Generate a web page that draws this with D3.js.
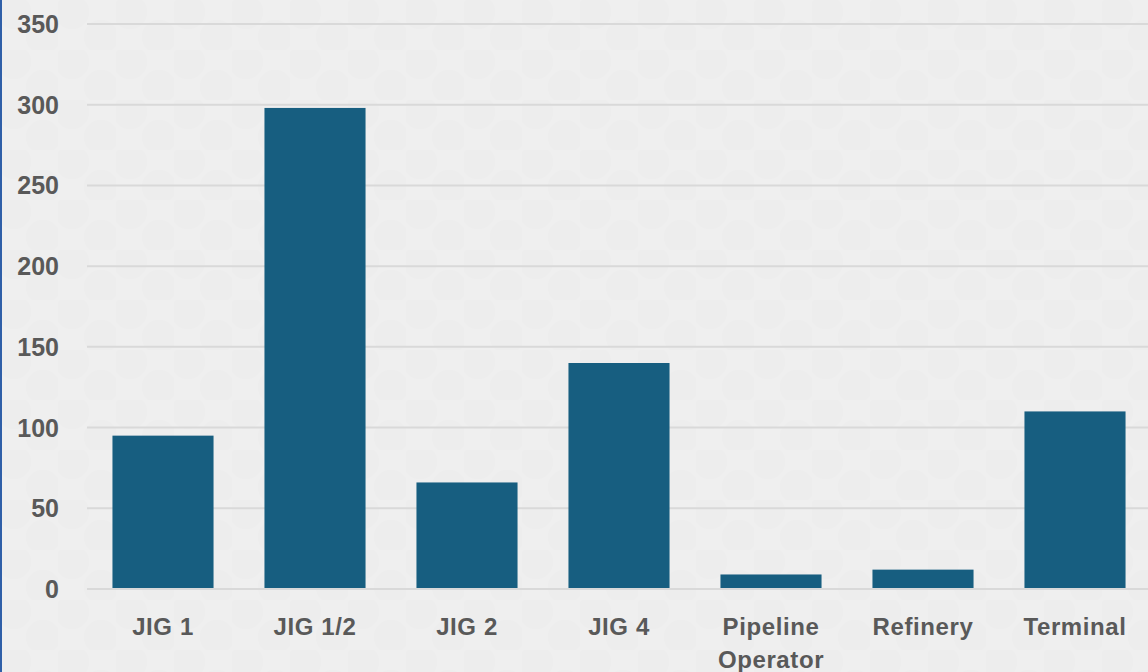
<!DOCTYPE html>
<html>
<head>
<meta charset="utf-8">
<script src="https://cdn.jsdelivr.net/npm/d3@7"></script>
<style>
  html, body { margin: 0; padding: 0; background: #efefef; overflow: hidden; }
  svg { display: block; }
</style>
</head>
<body>
<script>
// chart data
const categories = ["JIG 1", "JIG 1/2", "JIG 2", "JIG 4", "Pipeline Operator", "Refinery", "Terminal"];
const values = [95, 298, 66, 140, 9, 12, 110];
const yTicks = [0, 50, 100, 150, 200, 250, 300, 350];

const width = 1148, height = 672;

const svg = d3.select("body").append("svg")
    .attr("width", width)
    .attr("height", height);

// faint dotted background
const defs = svg.append("defs");
const pat = defs.append("pattern")
    .attr("id", "dots")
    .attr("patternUnits", "userSpaceOnUse")
    .attr("width", 58).attr("height", 50);
pat.append("rect").attr("width", 58).attr("height", 50).attr("fill", "#efefef");
pat.append("circle").attr("cx", 14).attr("cy", 12).attr("r", 17).attr("fill", "#ededed");
pat.append("circle").attr("cx", 43).attr("cy", 37).attr("r", 17).attr("fill", "#ededed");

svg.append("rect").attr("width", width).attr("height", height).attr("fill", "url(#dots)");

// blue edge on the left
svg.append("rect").attr("x", 0).attr("y", 0).attr("width", 2).attr("height", height).attr("fill", "#2f5fa8");

var x = d3.scaleBand()
    .domain(categories)
    .range([87, 1151])
    .paddingInner(0.335)
    .paddingOuter(0.1675);

var y = d3.scaleLinear()
    .domain([0, 350])
    .range([589, 24]);

var labelFont = "'Liberation Sans', Arial, sans-serif";

// gridlines
svg.append("g")
    .selectAll("line")
    .data(yTicks)
    .enter().append("line")
    .attr("x1", 87)
    .attr("x2", width)
    .attr("y1", d => y(d))
    .attr("y2", d => y(d))
    .attr("stroke", "#d9d9d9")
    .attr("stroke-width", 2);

// y labels
svg.append("g")
    .selectAll("text")
    .data(yTicks)
    .enter().append("text")
    .attr("x", 59)
    .attr("y", d => y(d) + 9)
    .attr("text-anchor", "end")
    .style("font-family", labelFont)
    .style("font-weight", "bold")
    .style("font-size", "25px")
    .style("fill", "#595959")
    .text(d => d);

// bars
svg.append("g")
    .selectAll("rect")
    .data(values)
    .enter().append("rect")
    .attr("x", (d, i) => x(categories[i]))
    .attr("width", x.bandwidth())
    .attr("y", d => y(d))
    .attr("height", d => y(0) - y(d) - 1)
    .attr("fill", "#175e80");

// x labels, wrap on space for long names
var xl = svg.append("g")
    .selectAll("text")
    .data(categories)
    .enter().append("text")
    .attr("x", d => x(d) + x.bandwidth() / 2)
    .attr("y", 635)
    .attr("text-anchor", "middle")
    .style("font-family", labelFont)
    .style("font-weight", "bold")
    .style("font-size", "24px")
    .style("letter-spacing", "0.6px")
    .style("fill", "#595959");

xl.each(function (d) {
    var words = d.length > 12 ? d.split(" ") : [d];
    var t = d3.select(this);
    words.forEach(function (w, i) {
        t.append("tspan")
            .attr("x", x(d) + x.bandwidth() / 2)
            .attr("dy", i == 0 ? 0 : 33)
            .text(w);
    });
});
</script>
</body>
</html>
